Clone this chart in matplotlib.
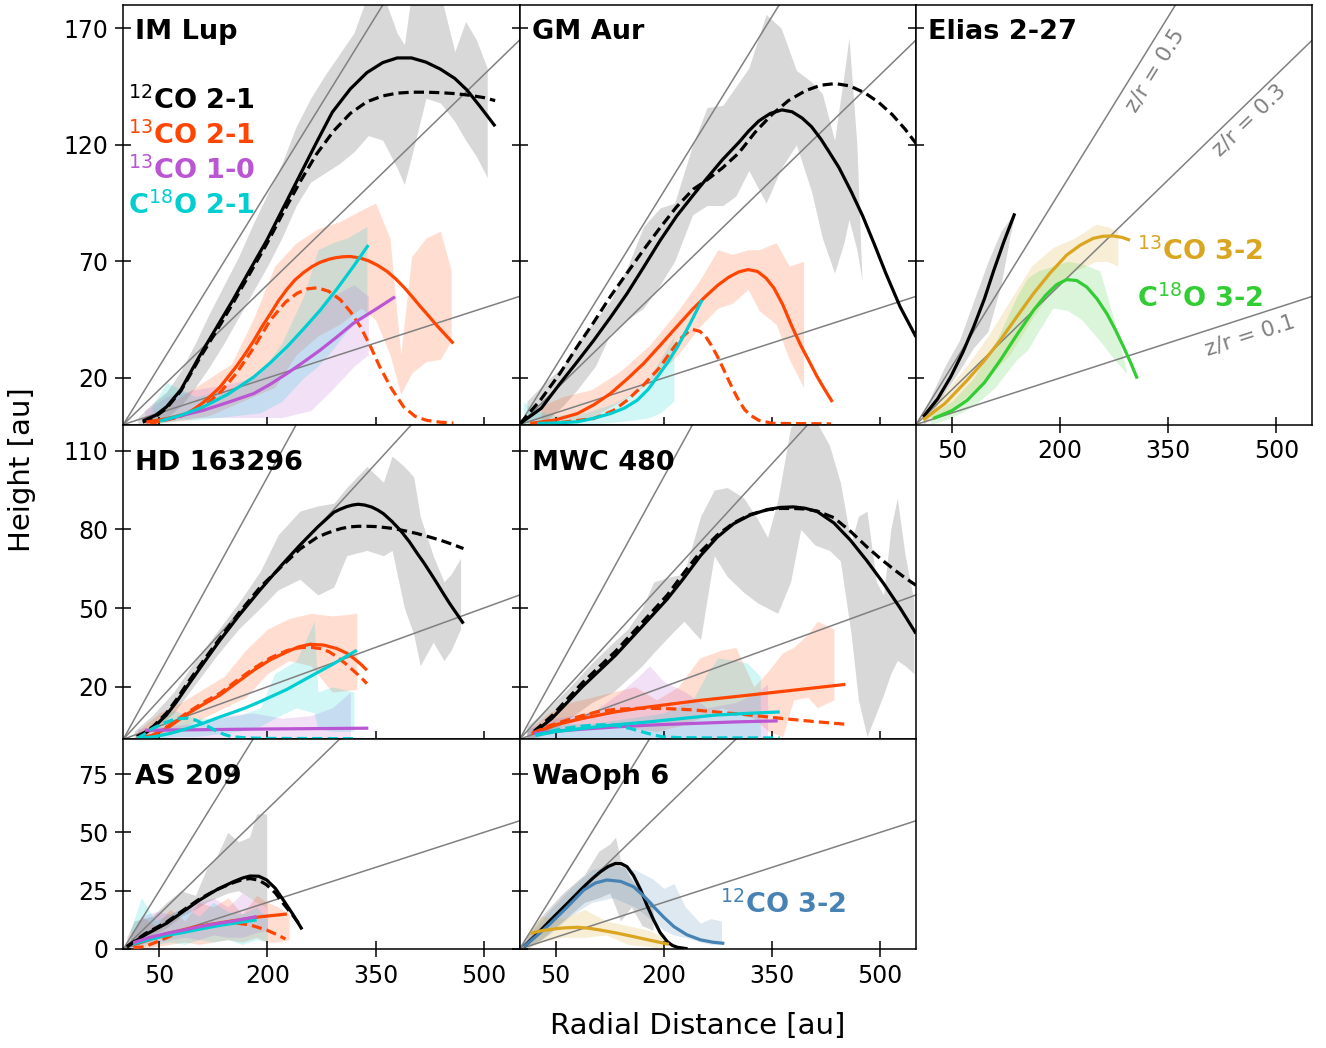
import numpy as np
import matplotlib
matplotlib.use("Agg")
import matplotlib.pyplot as plt
from matplotlib.gridspec import GridSpec

# ---------------- data ----------------
# IM Lup
im_12co21_r = [27, 45, 60, 80, 106, 130, 152, 175, 199, 222, 245, 268, 290, 315, 338, 360, 380, 400, 420,
               440, 460, 477, 495, 516]
im_12co21_z = [1.5, 4, 7.6, 15, 29.5, 42, 53.4, 66, 79, 93, 107, 121, 134, 144, 151, 155.3, 157.3, 157.3,
               155.5, 152.5, 148.5, 143.5, 136.5, 128]
im_12co21d_r = [27, 45, 60, 80, 106, 130, 152, 175, 199, 222, 245, 268, 292, 315, 338, 360, 380, 400, 420,
                440, 460, 480, 500, 516]
im_12co21d_z = [1, 3.5, 7, 14.5, 28.5, 40.5, 52, 64.5, 77.5, 91, 104, 116, 126, 133.5, 138.5, 141, 142.2,
                142.6, 142.6, 142.4, 142, 141.3, 140.3, 139]
im_12co21_band_r = [20, 40, 60, 80, 100, 120, 140, 160, 180, 200, 220, 240, 260, 280, 300, 320, 340,
                    360, 380, 390, 400, 420, 440, 460, 475, 490, 505]
im_12co21_band_lo = [0, 0, 3, 8, 16, 25, 35, 46, 57, 68, 80, 94, 104, 108, 112, 117, 124,
                     122, 110, 103, 115, 140, 138, 130, 122, 115, 106]
im_12co21_band_hi = [3, 9, 14, 23, 35, 48, 60, 72, 86, 99, 112, 128, 140, 150, 159, 168, 185,
                     185, 168, 163, 185, 185, 185, 160, 173, 165, 153]
im_13co21_r = [32, 60, 88, 100, 111, 122, 134, 145, 157, 169, 181, 192, 204, 215, 227, 238, 250, 262, 273,
               285, 295, 305, 315, 328, 340, 353, 366, 378, 390, 401, 412, 424, 435, 447, 458]
im_13co21_z = [1.1, 2.5, 4.7, 7, 9.5, 12.5, 16, 20.3, 25, 30.3, 36, 41.8, 47.5, 53, 58, 62, 65.2, 67.8,
               69.6, 70.9, 71.6, 72, 72.1, 71.5, 70.3, 68.3, 65.7, 62.5, 58.7, 54.8, 50.7, 46.5, 42.5,
               38.5, 34.8]
im_13co21d_r = [37, 75, 111, 135, 157, 181, 204, 225, 241, 255, 269, 285, 301, 315, 329, 343, 356, 372,
                389, 405, 421, 440, 458]
im_13co21d_z = [0.5, 3, 7.6, 14, 22, 33, 44.8, 52.5, 56.3, 58.2, 58.7, 57.2, 53.6, 48.5, 42, 33.5, 24.7,
                15.5, 7.6, 3.5, 1.8, 1.0, 0.7]
im_13co21_band_r = [30, 60, 90, 120, 150, 180, 210, 240, 270, 300, 330, 350, 370, 385, 400, 420, 440, 455]
im_13co21_band_lo = [0, 1, 2, 4, 8, 12, 16, 30, 38, 43, 50, 45, 30, 13, 22, 27, 28, 36]
im_13co21_band_hi = [3, 8, 14, 20, 26, 45, 68, 78, 84, 87, 92, 95, 80, 30, 72, 80, 83, 66]
im_13co10_r = [55, 80, 111, 145, 181, 204, 227, 250, 273, 296, 319, 348, 377]
im_13co10_z = [1.8, 3.8, 6.1, 9.5, 13.3, 17.3, 21.9, 26.8, 31.9, 37.5, 43.4, 49, 54.8]
im_13co10_band_r = [30, 60, 100, 140, 180, 220, 260, 290, 320, 340]
im_13co10_band_lo = [0, 2, 3, 3, 3, 3, 6, 15, 25, 30]
im_13co10_band_hi = [6, 12, 15, 17, 20, 30, 45, 55, 60, 55]
im_c18o21_r = [51, 80, 111, 145, 181, 204, 227, 250, 273, 296, 319, 340]
im_c18o21_z = [1.5, 4, 7.6, 13, 20.4, 26.5, 33.3, 41, 49, 58, 67.7, 77]
im_c18o21_band_r = [40, 60, 80, 100, 130, 160, 190, 220, 250, 270, 290, 310, 338]
im_c18o21_band_lo = [0, 1, 2, 2, 3, 4, 5, 10, 20, 25, 32, 40, 48]
im_c18o21_band_hi = [8, 18, 15, 12, 14, 16, 22, 35, 55, 75, 78, 80, 85]

# GM Aur
gm_12co21_r = [1, 30, 56, 80, 103, 126, 149, 172, 195, 218, 241, 258, 281, 304, 318, 332, 348, 364, 378,
               392, 405, 418, 430, 443, 460, 476, 492, 508, 528, 550]
gm_12co21_z = [0.5, 7, 17.6, 27, 36.2, 46, 56.2, 67.5, 79, 89.5, 98.5, 105, 113.5, 121, 126, 130.3, 133.5,
               135, 134.2, 131.5, 127.8, 122.5, 116.7, 110.3, 100, 89.5, 77.5, 65, 50.5, 37.6]
gm_12co21d_r = [1, 30, 56, 80, 103, 126, 149, 172, 195, 218, 241, 258, 281, 304, 327, 350, 373, 397, 418,
                438, 458, 479, 498, 517, 535, 550]
gm_12co21d_z = [0.5, 11, 22, 33.5, 44, 55, 65, 75, 84.5, 93.5, 101, 104.5, 110, 116.5, 125.5, 133, 139,
                143.3, 145.6, 146.3, 145.3, 142.3, 138.3, 133, 126.7, 120.6]
gm_12co21_band_r = [10, 35, 60, 80, 105, 126, 150, 172, 195, 215, 240, 260, 282, 300, 318, 342, 363, 384, 405,
                    420, 437, 450, 457, 468, 475]
gm_12co21_band_lo = [0, 1, 8, 15, 25, 39, 45, 50, 60, 70, 90, 94, 94, 98, 109, 95, 110, 120, 100, 80, 65, 78,
                     88, 75, 62]
gm_12co21_band_hi = [10, 18, 25, 35, 45, 53, 68, 85, 93, 95, 120, 136, 137, 145, 153, 176, 170, 152, 147, 142,
                     122, 150, 166, 120, 62]
gm_13co21_r = [15, 50, 80, 103, 126, 149, 172, 195, 218, 240, 258, 275, 290, 304, 317, 330, 342, 353, 365,
               378, 390, 401, 412, 423, 434]
gm_13co21_z = [0.5, 2, 4.7, 8.5, 13.3, 19.5, 26.2, 34, 42, 49.5, 55, 59.8, 63.2, 65.5, 66.5, 65.7, 62.8,
               58.5, 51.5, 42, 34, 27.6, 21, 15.2, 9.7]
gm_13co21d_r = [15, 60, 103, 130, 149, 172, 195, 210, 223, 233, 240, 250, 258, 266, 274, 281, 290, 297, 304,
                312, 320, 332, 351, 432]
gm_13co21d_z = [0.3, 1, 2.6, 6, 10.4, 17, 24.7, 31.5, 36.8, 39.6, 40.8, 40, 37.8, 34, 29.5, 25, 19, 14.5,
                10.4, 6.5, 4, 1.8, 0.5, 0.3]
gm_13co21_band_r = [30, 60, 100, 140, 180, 220, 250, 275, 295, 317, 332, 356, 374, 394]
gm_13co21_band_lo = [0, 1, 3, 10, 18, 30, 42, 50, 52, 58, 49, 43, 28, 16]
gm_13co21_band_hi = [8, 12, 15, 23, 34, 49, 62, 75, 73, 75, 75, 78, 68, 70]
gm_c18o21_r = [24, 50, 80, 100, 126, 145, 163, 178, 191, 205, 219, 236, 253]
gm_c18o21_z = [0.5, 0.7, 1.2, 2.5, 4.7, 7, 10.4, 15, 20.4, 26.5, 33.3, 43, 53.4]
gm_c18o21_band_r = [5, 20, 50, 90, 130, 160, 180, 195, 214]
gm_c18o21_band_lo = [0, 0, 0, 0, 1, 2, 3, 5, 10]
gm_c18o21_band_hi = [10, 6, 4, 5, 9, 14, 20, 28, 38]

# Elias 2-27
el_12co21_r = [10, 30, 48, 65, 80, 95, 108, 122, 137]
el_12co21_z = [3.3, 11, 20.4, 31, 41.9, 54, 66.2, 78.5, 90.6]
el_12co21_band_r = [10, 25, 40, 60, 80, 100, 118, 130, 137]
el_12co21_band_lo = [0, 6, 14, 23, 33, 40, 60, 80, 90]
el_12co21_band_hi = [5, 15, 25, 36, 53, 70, 83, 88, 91]
el_13co32_r = [10, 40, 71, 95, 117, 140, 163, 186, 209, 228, 246, 260, 274, 286, 297]
el_13co32_z = [2, 9, 19, 27.5, 36.2, 46.3, 56.2, 65, 72.7, 77, 79.9, 80.8, 80.9, 80.3, 79.1]
el_13co32_band_r = [10, 40, 70, 100, 130, 160, 190, 220, 250, 265, 280]
el_13co32_band_lo = [0, 5, 12, 20, 30, 45, 58, 66, 70, 70, 68]
el_13co32_band_hi = [5, 14, 25, 38, 53, 68, 76, 80, 86, 85, 83]
el_c18o32_r = [24, 50, 71, 95, 117, 140, 163, 180, 195, 209, 223, 237, 251, 265, 277, 288, 298, 307]
el_c18o32_z = [2.6, 6, 10.4, 18, 27.6, 38.5, 49, 55.5, 60, 62.2, 61.8, 59, 54, 47.5, 40.5, 33.3, 26.5, 19.7]
el_c18o32_band_r = [20, 50, 80, 110, 140, 155, 170, 190, 210, 230, 255, 275, 292]
el_c18o32_band_lo = [0, 3, 8, 16, 28, 32, 40, 50, 49, 45, 36, 28, 22]
el_c18o32_band_hi = [4, 10, 20, 35, 55, 63, 66, 68, 70, 69, 66, 45, 23]

# HD 163296
hd_12co21_r = [19, 30, 42, 60, 74, 88, 110, 134, 160, 190, 220, 245, 270, 292, 300, 310, 318, 326, 335, 345,
               353, 361, 373, 385, 397, 408, 417, 426, 435, 444, 453, 472]
hd_12co21_z = [0.9, 2.3, 4.5, 9.3, 14.3, 19.9, 28.5, 37.7, 47, 57, 66.5, 74, 81, 86.5, 87.6, 88.7, 89.3,
               89.6, 89.3, 88.5, 87.4, 86, 83, 79.5, 75.3, 70.8, 67.3, 63.5, 59.6, 55.6, 51.7, 44.1]
hd_12co21d_r = [19, 30, 42, 60, 74, 88, 110, 134, 160, 190, 220, 245, 269, 281, 292, 303, 315, 326, 338, 350,
                361, 373, 385, 397, 408, 424, 440, 456, 472]
hd_12co21d_z = [1, 2.6, 5, 10, 15.2, 21, 29.5, 38.5, 48, 58, 66, 72.5, 77, 78.4, 79.5, 80.4, 81, 81.2, 81.2,
                81.1, 80.8, 80.4, 79.8, 79.1, 78.4, 77.2, 75.9, 74.4, 72.7]
hd_12co21_band_r = [15, 40, 70, 100, 130, 160, 190, 215, 245, 270, 292, 310, 338, 361, 373, 390, 403, 412,
                    430, 445, 455, 468]
hd_12co21_band_lo = [0, 3, 10, 21, 32, 42, 50, 57, 61, 55, 58, 70, 72, 70, 72, 50, 40, 28, 37, 30, 34, 42]
hd_12co21_band_hi = [3, 9, 18, 30, 41, 52, 64, 78, 87, 89, 90, 96, 104, 98, 108, 104, 100, 85, 70, 60, 63, 69]
hd_13co21_r = [19, 42, 65, 88, 111, 134, 157, 181, 204, 227, 243, 259, 278, 296, 310, 320, 330, 338]
hd_13co21_z = [0.5, 1.5, 5, 9.5, 13.3, 16.8, 21.5, 26.3, 30.3, 33.3, 35.2, 36.2, 35.9, 34.6, 32.8, 30.8,
               28.5, 26.3]
hd_13co21d_r = [19, 42, 65, 88, 111, 134, 157, 181, 204, 227, 240, 250, 262, 275, 286, 296, 308, 320, 330, 338]
hd_13co21d_z = [0.5, 1.7, 5.5, 10, 14, 17.5, 22.3, 27, 31, 33.8, 34.7, 35, 35, 34.5, 33.3, 31.5, 28.9, 26,
                23.5, 21.2]
hd_13co21_band_r = [20, 50, 80, 110, 140, 170, 200, 230, 260, 290, 324]
hd_13co21_band_lo = [0, 2, 4, 8, 12, 16, 25, 30, 28, 18, 19]
hd_13co21_band_hi = [3, 10, 14, 19, 24, 34, 42, 46, 48, 47, 48]
hd_13co10_r = [30, 100, 200, 340]
hd_13co10_z = [3.4, 3.6, 3.9, 4.2]
hd_13co10_band_r = [20, 60, 100, 140, 180, 220, 260, 290, 315]
hd_13co10_band_lo = [0, 0, 0, 0, 0, 0, 0, 0, 0]
hd_13co10_band_hi = [4, 5, 6, 9, 10, 8, 9, 12, 18]
hd_c18o21_r = [19, 42, 65, 88, 111, 134, 152, 170, 187, 204, 227, 250, 270, 290, 307, 324]
hd_c18o21_z = [0.3, 0.9, 2.2, 4, 6.1, 8.5, 10.2, 12, 14, 16.1, 19, 22.5, 25.5, 28.5, 31.2, 33.9]
hd_c18o21d_r = [19, 30, 40, 55, 70, 80, 90, 100, 110, 120, 130, 140, 150, 170, 200, 324]
hd_c18o21d_z = [0.3, 2, 4, 6, 7.5, 7.9, 8, 7.3, 6, 4.5, 3, 1.8, 1, 0.5, 0.3, 0.2]
hd_c18o21_band_r = [40, 70, 100, 130, 160, 190, 210, 240, 265, 270, 290, 320]
hd_c18o21_band_lo = [0, 1, 1, 2, 3, 5, 8, 12, 10, 4, 3, 3]
hd_c18o21_band_hi = [6, 11, 8, 8, 9, 12, 25, 30, 45, 18, 20, 18]

# MWC 480
mw_12co21_r = [20, 45, 87, 133, 170, 205, 228, 251, 274, 297, 320, 344, 362, 380, 396, 413, 436, 459, 482,
               505, 528, 550]
mw_12co21_z = [2.5, 8, 20, 32, 43, 53.5, 61.5, 70, 77, 82.2, 85.5, 87.6, 88.4, 88.6, 88.1, 86.8, 82.5, 75.9,
               68, 59.4, 50, 40.3]
mw_12co21d_r = [20, 45, 87, 133, 170, 205, 228, 251, 274, 297, 320, 344, 362, 380, 396, 413, 436, 459, 482,
                500, 520, 535, 550]
mw_12co21d_z = [3, 9, 21.5, 33.5, 44.5, 55, 63.5, 71.5, 77.8, 82.5, 85.7, 87.5, 88, 88, 87.8, 87, 84.5, 79.3,
                73.3, 69, 64.6, 61.5, 58.7]
mw_12co21_band_r = [10, 40, 70, 100, 130, 150, 170, 186, 210, 228, 251, 270, 288, 311, 330, 344, 358, 376,
                    390, 410, 430, 445, 460, 470, 482, 495, 505, 515, 524, 535, 547]
mw_12co21_band_lo = [0, 2, 8, 14, 18, 23, 28, 33, 40, 45, 38, 70, 62, 56, 52, 50, 48, 60, 80, 74, 72, 68,
                     40, 15, 1, 10, 17, 25, 30, 28, 25]
mw_12co21_band_hi = [5, 12, 20, 29, 37, 42, 50, 60, 62, 63, 85, 95, 96, 92, 84, 77, 91, 119, 122, 122, 112,
                     98, 75, 85, 87, 60, 55, 80, 92, 70, 53]
mw_13co21_r = [17, 50, 87, 130, 179, 250, 318, 390, 452]
mw_13co21_z = [2.2, 5.5, 7.9, 10.3, 12.3, 14.8, 16.8, 19, 20.9]
mw_13co21d_r = [17, 40, 60, 87, 110, 133, 165, 202, 240, 272, 320, 364, 410, 452]
mw_13co21d_z = [2.2, 5, 6.8, 9, 10.6, 11.4, 11.8, 11.7, 11.2, 10.4, 9.2, 7.9, 6.7, 5.7]
mw_13co21_band_r = [10, 40, 70, 100, 130, 160, 190, 220, 250, 280, 300, 325, 345, 365, 380, 400, 413, 436]
mw_13co21_band_lo = [0, 2, 3, 4, 5, 4, 3, 5, 8, 12, 10, 8, 3, 1, 15, 16, 12, 15]
mw_13co21_band_hi = [3, 10, 14, 16, 18, 20, 15, 20, 31, 34, 35, 20, 26, 33, 35, 40, 45, 42]
mw_13co10_r = [20, 60, 134, 190, 250, 300, 358]
mw_13co10_z = [2.2, 3.3, 4.7, 5.5, 6.1, 6.6, 7]
mw_13co10_band_r = [10, 50, 100, 140, 165, 180, 200, 230, 260, 300, 330, 344]
mw_13co10_band_lo = [0, 0, 0, 0, 0, 0, 0, 0, 0, 0, 0, 0]
mw_13co10_band_hi = [4, 8, 10, 18, 24, 28, 22, 18, 12, 14, 18, 21]
mw_c18o21_r = [22, 50, 87, 130, 179, 225, 272, 320, 361]
mw_c18o21_z = [1.5, 2.9, 4.1, 5.4, 6.6, 7.9, 9.2, 9.9, 10.4]
mw_c18o21d_r = [22, 40, 60, 80, 98, 115, 133, 152, 170, 185, 198, 220, 260, 361]
mw_c18o21d_z = [1.5, 2.8, 4, 4.8, 5.3, 5.5, 5.3, 4.2, 2.8, 1.7, 0.9, 0.6, 0.5, 0.5]
mw_c18o21_band_r = [10, 50, 100, 150, 200, 240, 260, 275, 300, 316, 334]
mw_c18o21_band_lo = [0, 0, 0, 0, 0, 0, 0, 0, 0, 0, 0]
mw_c18o21_band_hi = [4, 6, 6, 8, 10, 15, 25, 31, 30, 29, 24]

# AS 209
as_12co21_r = [5, 30, 60, 85, 106, 130, 153, 166, 176, 188, 199, 211, 222, 235, 248]
as_12co21_z = [1, 6, 11, 16.5, 21, 25.5, 28.9, 30.5, 31.3, 31.2, 29.6, 26, 21, 15, 8.4]
as_12co21d_r = [5, 30, 60, 85, 106, 130, 153, 166, 176, 188, 199, 211, 222, 235, 245]
as_12co21d_z = [1, 6.5, 11.5, 17, 21.5, 25.5, 28.5, 29.8, 30.2, 29.5, 27.5, 24, 19.5, 14.5, 10.3]
as_12co21_band_r = [5, 15, 40, 60, 80, 100, 115, 130, 145, 160, 175, 185, 199]
as_12co21_band_lo = [0, 2, 6, 9, 14, 17, 20, 22, 24, 25, 22, 20, 18]
as_12co21_band_hi = [5, 12, 14, 20, 25, 23, 34, 40, 50, 46, 48, 58, 58]
as_13co21_r = [15, 60, 100, 150, 190, 227]
as_13co21_z = [2, 6.5, 9.5, 12, 13.8, 15]
as_13co21d_r = [14, 30, 50, 74, 90, 106, 130, 153, 176, 199, 212, 225]
as_13co21d_z = [0.5, 1, 3.5, 6.7, 8.3, 9.6, 10.6, 11.3, 10.3, 8.1, 6.3, 4.3]
as_13co21_band_r = [10, 25, 45, 65, 85, 105, 125, 145, 165, 185, 200, 215, 230]
as_13co21_band_lo = [0, 0, 1, 2, 3, 2, 3, 4, 3, 5, 3, 3, 4]
as_13co21_band_hi = [6, 14, 10, 17, 12, 20, 18, 22, 15, 23, 20, 18, 15]
as_13co10_r = [14, 35, 60, 85, 106, 130, 153, 185]
as_13co10_z = [2.7, 4.8, 6.7, 8.2, 9.6, 10.9, 12, 13.9]
as_13co10_band_r = [10, 25, 45, 65, 85, 105, 125, 145, 165, 185, 200]
as_13co10_band_lo = [0, 2, 3, 4, 5, 4, 6, 5, 5, 7, 8]
as_13co10_band_hi = [6, 14, 16, 15, 18, 20, 22, 18, 24, 20, 18]
as_c18o21_r = [14, 35, 60, 85, 106, 130, 153, 185]
as_c18o21_z = [2.2, 4, 5.8, 7.2, 8.5, 9.9, 11, 12.5]
as_c18o21_band_r = [10, 25, 45, 65, 85, 105, 125, 145, 165, 185, 200]
as_c18o21_band_lo = [0, 1, 2, 3, 2, 4, 3, 4, 2, 4, 3]
as_c18o21_band_hi = [8, 22, 12, 15, 18, 14, 20, 16, 15, 18, 13]

# WaOph 6
wa_12co21_r = [6, 25, 43, 66, 89, 101, 112, 123, 133, 141, 149, 158, 168, 177, 186, 195, 205, 212, 219, 233]
wa_12co21_z = [1, 6.5, 12.4, 19.5, 26.7, 30.2, 33.1, 35.4, 36.7, 36.6, 35.3, 31.5, 25.3, 18.5, 12.4, 7,
               3.1, 1.5, 0.7, 0.1]
wa_12co21_band_r = [5, 30, 60, 90, 110, 125, 133, 140, 155, 170, 185]
wa_12co21_band_lo = [0, 4, 12, 20, 22, 24, 18, 12, 18, 10, 8]
wa_12co21_band_hi = [4, 14, 24, 32, 42, 45, 48, 38, 30, 24, 20]
wa_12co32_r = [6, 25, 43, 66, 89, 105, 121, 140, 158, 172, 186, 200, 214, 232, 251, 268, 284]
wa_12co32_z = [1, 6, 11, 18, 25.3, 28.3, 29.6, 29, 26.7, 22.8, 18.1, 13.6, 9.6, 6.1, 3.9, 2.9, 2.4]
wa_12co32_band_r = [10, 40, 70, 100, 130, 160, 185, 200, 214, 230, 251, 265, 280]
wa_12co32_band_lo = [0, 6, 14, 20, 22, 18, 12, 8, 6, 5, 3, 2, 2]
wa_12co32_band_hi = [5, 16, 26, 34, 36, 34, 30, 26, 28, 18, 11, 13, 12]
wa_13co32_r = [15, 30, 43, 60, 80, 96, 112, 135, 158, 183, 207]
wa_13co32_z = [6.7, 7.8, 8.4, 9, 9.3, 8.9, 8.1, 6.8, 5.3, 3.6, 2]
wa_13co32_band_r = [10, 30, 60, 90, 120, 150, 180, 200]
wa_13co32_band_lo = [0, 3, 5, 5, 6, 2, 1, 0]
wa_13co32_band_hi = [6, 14, 13, 17, 12, 10, 8, 5]

zr_slopes = [0.1, 0.3, 0.5]
x_ticks = [50, 200, 350, 500]
row_yticks = [[20, 70, 120, 170], [20, 50, 80, 110], [0, 25, 50, 75]]
row_ylims = [180, 120, 90]

# ---------------- styling ----------------
C_12CO21 = "black"
C_13CO21 = "orangered"
C_13CO10 = "mediumorchid"
C_C18O21 = "darkturquoise"
C_13CO32 = "goldenrod"
C_C18O32 = "limegreen"
C_12CO32 = "steelblue"

fig = plt.figure(figsize=(13.26, 10.48), dpi=100)
gs = GridSpec(3, 3, figure=fig, height_ratios=[4, 3, 2], left=0.093, right=0.9897,
              top=0.9952, bottom=0.0945, hspace=0, wspace=0)

ax_im = fig.add_subplot(gs[0, 0])
ax_gm = fig.add_subplot(gs[0, 1], sharex=ax_im, sharey=ax_im)
ax_el = fig.add_subplot(gs[0, 2], sharex=ax_im, sharey=ax_im)
ax_hd = fig.add_subplot(gs[1, 0], sharex=ax_im)
ax_mw = fig.add_subplot(gs[1, 1], sharex=ax_im, sharey=ax_hd)
ax_as = fig.add_subplot(gs[2, 0], sharex=ax_im)
ax_wa = fig.add_subplot(gs[2, 1], sharex=ax_im, sharey=ax_as)

rows = {ax_im: 0, ax_gm: 0, ax_el: 0, ax_hd: 1, ax_mw: 1, ax_as: 2, ax_wa: 2}


def band(ax, r, lo, hi, color, alpha):
    ax.fill_between(r, lo, hi, color=color, alpha=alpha, lw=0, zorder=1)


def line(ax, r, z, color, ls="-"):
    kw = dict(color=color, lw=2.3, zorder=3, solid_capstyle="butt")
    if ls == "--":
        ax.plot(r, z, ls="--", dashes=(3.2, 1.6), **kw)
    else:
        ax.plot(r, z, ls="-", **kw)


GA = 0.3
CA = 0.18

# IM Lup
band(ax_im, im_12co21_band_r, im_12co21_band_lo, im_12co21_band_hi, "gray", GA)
band(ax_im, im_13co21_band_r, im_13co21_band_lo, im_13co21_band_hi, C_13CO21, CA)
band(ax_im, im_13co10_band_r, im_13co10_band_lo, im_13co10_band_hi, C_13CO10, CA)
band(ax_im, im_c18o21_band_r, im_c18o21_band_lo, im_c18o21_band_hi, C_C18O21, CA)
line(ax_im, im_12co21_r, im_12co21_z, C_12CO21)
line(ax_im, im_12co21d_r, im_12co21d_z, C_12CO21, "--")
line(ax_im, im_13co21_r, im_13co21_z, C_13CO21)
line(ax_im, im_13co21d_r, im_13co21d_z, C_13CO21, "--")
line(ax_im, im_13co10_r, im_13co10_z, C_13CO10)
line(ax_im, im_c18o21_r, im_c18o21_z, C_C18O21)

# GM Aur
band(ax_gm, gm_12co21_band_r, gm_12co21_band_lo, gm_12co21_band_hi, "gray", GA)
band(ax_gm, gm_13co21_band_r, gm_13co21_band_lo, gm_13co21_band_hi, C_13CO21, CA)
band(ax_gm, gm_c18o21_band_r, gm_c18o21_band_lo, gm_c18o21_band_hi, C_C18O21, CA)
line(ax_gm, gm_12co21_r, gm_12co21_z, C_12CO21)
line(ax_gm, gm_12co21d_r, gm_12co21d_z, C_12CO21, "--")
line(ax_gm, gm_13co21_r, gm_13co21_z, C_13CO21)
line(ax_gm, gm_13co21d_r, gm_13co21d_z, C_13CO21, "--")
line(ax_gm, gm_c18o21_r, gm_c18o21_z, C_C18O21)

# Elias 2-27
band(ax_el, el_12co21_band_r, el_12co21_band_lo, el_12co21_band_hi, "gray", GA)
band(ax_el, el_13co32_band_r, el_13co32_band_lo, el_13co32_band_hi, C_13CO32, CA)
band(ax_el, el_c18o32_band_r, el_c18o32_band_lo, el_c18o32_band_hi, C_C18O32, CA)
line(ax_el, el_12co21_r, el_12co21_z, C_12CO21)
line(ax_el, el_13co32_r, el_13co32_z, C_13CO32)
line(ax_el, el_c18o32_r, el_c18o32_z, C_C18O32)

# HD 163296
band(ax_hd, hd_12co21_band_r, hd_12co21_band_lo, hd_12co21_band_hi, "gray", GA)
band(ax_hd, hd_13co21_band_r, hd_13co21_band_lo, hd_13co21_band_hi, C_13CO21, CA)
band(ax_hd, hd_13co10_band_r, hd_13co10_band_lo, hd_13co10_band_hi, C_13CO10, CA)
band(ax_hd, hd_c18o21_band_r, hd_c18o21_band_lo, hd_c18o21_band_hi, C_C18O21, CA)
line(ax_hd, hd_12co21_r, hd_12co21_z, C_12CO21)
line(ax_hd, hd_12co21d_r, hd_12co21d_z, C_12CO21, "--")
line(ax_hd, hd_13co21_r, hd_13co21_z, C_13CO21)
line(ax_hd, hd_13co21d_r, hd_13co21d_z, C_13CO21, "--")
line(ax_hd, hd_13co10_r, hd_13co10_z, C_13CO10)
line(ax_hd, hd_c18o21_r, hd_c18o21_z, C_C18O21)
line(ax_hd, hd_c18o21d_r, hd_c18o21d_z, C_C18O21, "--")

# MWC 480
band(ax_mw, mw_12co21_band_r, mw_12co21_band_lo, mw_12co21_band_hi, "gray", GA)
band(ax_mw, mw_13co21_band_r, mw_13co21_band_lo, mw_13co21_band_hi, C_13CO21, CA)
band(ax_mw, mw_13co10_band_r, mw_13co10_band_lo, mw_13co10_band_hi, C_13CO10, CA)
band(ax_mw, mw_c18o21_band_r, mw_c18o21_band_lo, mw_c18o21_band_hi, C_C18O21, CA)
line(ax_mw, mw_12co21_r, mw_12co21_z, C_12CO21)
line(ax_mw, mw_12co21d_r, mw_12co21d_z, C_12CO21, "--")
line(ax_mw, mw_13co21_r, mw_13co21_z, C_13CO21)
line(ax_mw, mw_13co21d_r, mw_13co21d_z, C_13CO21, "--")
line(ax_mw, mw_13co10_r, mw_13co10_z, C_13CO10)
line(ax_mw, mw_c18o21_r, mw_c18o21_z, C_C18O21)
line(ax_mw, mw_c18o21d_r, mw_c18o21d_z, C_C18O21, "--")

# AS 209
band(ax_as, as_12co21_band_r, as_12co21_band_lo, as_12co21_band_hi, "gray", GA)
band(ax_as, as_13co21_band_r, as_13co21_band_lo, as_13co21_band_hi, C_13CO21, CA)
band(ax_as, as_13co10_band_r, as_13co10_band_lo, as_13co10_band_hi, C_13CO10, CA)
band(ax_as, as_c18o21_band_r, as_c18o21_band_lo, as_c18o21_band_hi, C_C18O21, CA)
line(ax_as, as_12co21_r, as_12co21_z, C_12CO21)
line(ax_as, as_12co21d_r, as_12co21d_z, C_12CO21, "--")
line(ax_as, as_13co21_r, as_13co21_z, C_13CO21)
line(ax_as, as_13co21d_r, as_13co21d_z, C_13CO21, "--")
line(ax_as, as_c18o21_r, as_c18o21_z, C_C18O21)
line(ax_as, as_13co10_r, as_13co10_z, C_13CO10)

# WaOph 6
band(ax_wa, wa_12co21_band_r, wa_12co21_band_lo, wa_12co21_band_hi, "gray", GA)
band(ax_wa, wa_12co32_band_r, wa_12co32_band_lo, wa_12co32_band_hi, C_12CO32, CA)
band(ax_wa, wa_13co32_band_r, wa_13co32_band_lo, wa_13co32_band_hi, C_13CO32, CA)
line(ax_wa, wa_12co21_r, wa_12co21_z, C_12CO21)
line(ax_wa, wa_12co32_r, wa_12co32_z, C_12CO32)
line(ax_wa, wa_13co32_r, wa_13co32_z, C_13CO32)

# common axes styling
titles = {ax_im: "IM Lup", ax_gm: "GM Aur", ax_el: "Elias 2-27", ax_hd: "HD 163296",
          ax_mw: "MWC 480", ax_as: "AS 209", ax_wa: "WaOph 6"}
title_y = [0.935, 0.879, 0.82]
rr = np.array([0, 550])
for ax, row in rows.items():
    for s in zr_slopes:
        ax.plot(rr, s * rr, color="gray", lw=1.1, zorder=2)
    ax.set_xlim(0, 550)
    ax.set_ylim(0, row_ylims[row])
    ax.set_xticks(x_ticks)
    ax.set_yticks(row_yticks[row])
    ax.tick_params(direction="inout", length=11.5, width=1.1, labelsize=17, pad=5)
    for sp in ax.spines.values():
        sp.set_linewidth(1.1)
    ax.text(0.03, title_y[row], titles[ax], transform=ax.transAxes, fontsize=19.5,
            fontweight="bold", ha="left", va="center", zorder=5)

for ax in [ax_gm, ax_mw, ax_wa, ax_el]:
    ax.tick_params(labelleft=False)
for ax in [ax_im, ax_gm, ax_hd, ax_mw]:
    ax.tick_params(labelbottom=False)
ax_el.tick_params(labelbottom=True)

# labels inside panels
legend_items = [("$^{12}$CO 2-1", C_12CO21), ("$^{13}$CO 2-1", C_13CO21),
                ("$^{13}$CO 1-0", C_13CO10), ("C$^{18}$O 2-1", C_C18O21)]
for i, (lab, col) in enumerate(legend_items):
    ax_im.text(0.012, 0.751 - i * 0.0828, lab, color=col, fontsize=19.5, fontweight="bold",
               transform=ax_im.transAxes, ha="left", va="baseline", zorder=5)

ax_el.text(0.557, 0.392, "$^{13}$CO 3-2", color=C_13CO32, fontsize=19.5, fontweight="bold",
           transform=ax_el.transAxes, ha="left", va="baseline", zorder=5)
ax_el.text(0.557, 0.280, "C$^{18}$O 3-2", color=C_C18O32, fontsize=19.5, fontweight="bold",
           transform=ax_el.transAxes, ha="left", va="baseline", zorder=5)
ax_wa.text(0.505, 0.173, "$^{12}$CO 3-2", color=C_12CO32, fontsize=19.5, fontweight="bold",
           transform=ax_wa.transAxes, ha="left", va="baseline", zorder=5)

zr_label_pos = {0.5: (332, 152), 0.3: (463, 130.6), 0.1: (464, 38.4)}
for s, (tx, ty) in zr_label_pos.items():
    ax_el.text(tx, ty, f"z/r = {s}", color="gray", fontsize=15.5, ha="center", va="center",
               rotation=np.degrees(np.arctan(s)), transform_rotates_text=True,
               rotation_mode="anchor", zorder=5)

fig.text(0.0166, 0.5515, "Height [au]", rotation=90, fontsize=21, ha="center", va="center")
fig.text(0.5264, 0.021, "Radial Distance [au]", fontsize=21, ha="center", va="center")

fig.savefig("out.png", dpi=100)
